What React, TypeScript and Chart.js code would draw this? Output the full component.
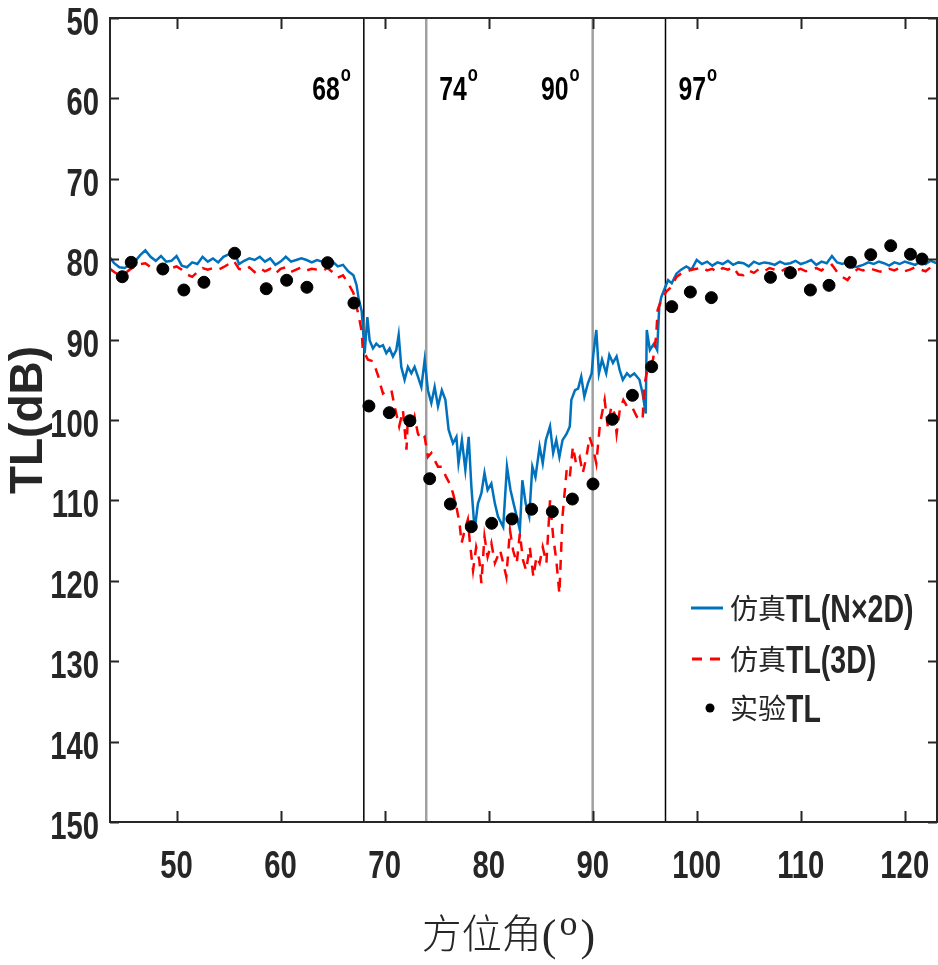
import React, { useEffect, useRef } from "react";
import { Chart, registerables } from "chart.js";
Chart.register(...registerables);

// ---- data ----
const blueX = [43.6,44.0,44.5,45.0,45.5,46.0,46.5,47.0,47.5,48.0,48.5,49.0,49.5,50.0,50.5,51.0,51.5,52.0,52.5,53.0,53.5,54.0,54.5,55.0,55.5,56.0,56.5,57.0,57.5,58.0,58.5,59.0,59.5,60.0,60.5,61.0,61.5,62.0,62.5,63.0,63.5,64.0,64.5,65.0,65.5,66.0,66.5,67.0,67.3,67.5,67.8,68.08,68.34,68.56,68.88,69.2,69.52,69.84,70.16,70.48,70.8,71.12,71.35,71.6,71.92,72.24,72.57,72.88,73.2,73.53,73.85,74.16,74.49,74.81,75.13,75.5,75.84,76.15,76.57,76.9,77.1,77.43,77.76,78.08,78.34,78.65,78.97,79.3,79.6,79.9,80.26,80.6,80.9,81.4,81.76,82.1,82.4,82.7,83.0,83.24,83.56,83.9,84.2,84.5,84.9,85.2,85.5,85.9,86.2,86.5,86.8,87.1,87.5,87.8,87.95,88.3,88.6,88.9,89.2,89.55,89.9,90.05,90.35,90.6,90.9,91.3,91.6,91.95,92.3,92.6,92.9,93.3,93.6,94.0,94.5,94.8,95.1,95.2,95.5,95.9,96.2,96.4,96.6,97.0,97.25,97.6,98.05,98.5,99.0,99.5,100.0,100.5,101.0,101.5,102.0,102.5,103.0,103.5,104.0,104.5,105.0,105.5,106.0,106.5,107.0,107.5,108.0,108.5,109.0,109.5,110.0,110.5,111.0,111.5,112.0,112.5,113.0,113.5,114.0,114.5,115.0,115.5,116.0,116.5,117.0,117.5,118.0,118.5,119.0,119.5,120.0,120.5,121.0,121.5,122.0,122.5,123.1];
const blueY = [79.8,80.5,81.0,81.1,80.7,80.3,79.5,78.9,79.7,80.2,79.6,80.3,80.2,79.6,80.8,81.0,80.4,80.6,79.7,80.3,79.9,80.4,79.7,79.4,78.9,80.6,80.2,79.9,80.1,79.7,80.3,79.9,80.7,80.3,79.7,80.3,80.1,79.9,80.1,80.4,80.1,80.3,80.0,80.3,80.9,80.7,81.5,82.0,83.2,84.9,86.5,91.7,87.2,90.1,91.1,90.5,90.9,90.7,91.7,91.1,92.1,91.3,89.4,93.4,95.0,93.4,94.2,93.4,94.6,95.9,92.5,96.3,97.9,95.9,98.3,96.3,97.5,101.2,102.9,102.1,105.4,102.5,106.2,102.1,108.3,113.7,110.4,109.1,106.6,108.7,107.9,110.4,112.0,113.3,105.8,108.7,110.4,112.0,113.7,107.5,110.4,112.0,105.8,107.1,103.3,105.4,102.5,100.8,104.1,102.5,104.6,102.5,101.7,100.8,97.5,96.3,96.1,94.6,97.1,95.4,94.2,92.0,88.8,94.2,92.5,94.2,91.9,92.9,92.1,93.8,95.0,94.2,94.6,94.2,95.0,96.7,99.2,88.8,91.3,90.5,91.3,85.9,84.7,83.4,82.6,83.0,81.8,81.3,80.9,81.3,80.1,80.6,80.3,80.8,80.4,80.6,80.2,80.7,80.4,80.5,80.9,80.3,80.6,80.4,80.5,80.7,80.3,80.6,80.5,80.2,80.6,80.4,80.1,80.7,80.3,80.5,79.6,80.4,80.6,80.3,81.0,80.9,80.7,80.4,80.6,80.3,80.5,80.8,80.4,80.6,80.3,80.5,80.7,80.3,80.6,80.2,80.5];

const redX = [43.6,44.0,44.5,45.0,45.5,46.0,46.5,47.0,47.5,48.0,48.5,49.0,49.5,50.0,50.5,51.0,51.5,52.0,52.5,53.0,53.5,54.0,54.5,55.0,55.5,56.0,56.5,57.0,57.5,58.0,58.5,59.0,59.5,60.0,60.5,61.0,61.5,62.0,62.5,63.0,63.5,64.0,64.5,65.0,65.5,66.0,66.5,67.0,67.5,67.8,67.9,68.4,68.9,69.4,69.55,69.84,70.3,70.65,70.96,71.4,71.76,72.1,72.24,72.57,72.88,73.2,73.53,73.85,74.16,74.49,74.81,75.13,75.5,75.9,76.25,76.57,76.9,77.2,77.4,77.7,78.0,78.2,78.5,78.8,79.1,79.3,79.6,79.9,80.26,80.6,81.1,81.4,81.7,82.05,82.35,82.7,83.0,83.3,83.6,83.95,84.3,84.6,84.9,85.2,85.55,85.9,86.2,86.5,86.65,86.8,87.1,87.5,87.8,88.1,88.4,88.75,89.05,89.4,89.7,90.0,90.35,90.7,91.15,91.45,91.8,92.1,92.3,92.6,92.95,93.3,93.75,94.25,94.8,94.95,95.3,95.8,96.1,96.25,96.6,97.1,97.6,98.05,98.5,99.0,99.5,100.0,100.5,101.0,101.5,102.0,102.5,103.0,103.5,104.0,104.5,105.0,105.5,106.0,106.5,107.0,107.5,108.0,108.5,109.0,109.5,110.0,110.5,111.0,111.5,112.0,112.5,113.0,113.5,114.0,114.5,115.0,115.5,116.0,116.5,117.0,117.5,118.0,118.5,119.0,119.5,120.0,120.5,121.0,121.5,122.0,122.5,123.1];
const redY = [81.2,81.6,82.0,81.8,81.3,80.9,80.6,80.5,81.0,81.2,81.5,81.0,81.1,80.9,81.3,81.9,82.2,81.6,81.1,81.3,81.1,81.3,81.0,80.6,80.2,81.2,81.4,81.0,81.6,81.1,81.5,81.2,81.8,81.2,81.0,81.6,81.3,81.0,81.4,81.2,81.3,81.5,81.1,81.6,82.3,82.0,83.0,84.2,87.0,89.0,91.3,92.5,92.7,94.6,95.4,96.7,96.3,96.3,98.3,100.8,98.8,103.7,99.6,101.2,99.6,101.7,102.5,102.1,104.6,104.1,105.0,105.8,105.8,107.05,107.9,109.1,110.8,112.85,115.3,113.7,112.4,115.3,118.7,115.8,117.4,120.3,114.5,117.0,115.3,117.8,116.2,117.8,119.5,113.7,116.2,117.8,114.1,117.4,118.7,115.8,119.5,117.0,117.8,115.8,117.8,110.0,114.5,117.4,119.5,121.6,112.0,106.2,107.05,103.3,105.4,104.6,106.6,104.6,102.1,103.3,105.4,100.5,97.5,100.8,98.3,99.2,101.7,98.8,97.5,98.3,98.3,99.6,100.0,95.85,93.4,92.5,89.6,86.3,85.1,84.0,83.4,82.2,81.8,81.55,81.3,81.2,81.0,81.4,81.2,81.6,81.1,81.3,81.0,81.9,82.0,81.4,81.7,81.2,81.5,81.1,81.3,81.6,81.2,81.0,81.4,81.2,81.5,81.3,81.1,81.4,80.9,80.7,81.6,82.2,82.6,81.7,81.2,81.4,81.1,81.3,81.5,81.6,81.2,81.4,81.1,81.5,81.3,81.0,81.3,81.5,81.0,81.2];

const expX = [44.78,45.64,48.68,50.70,52.63,55.58,58.62,60.58,62.53,64.52,67.05,68.49,70.45,72.43,74.33,76.32,78.33,80.29,82.24,84.13,86.12,88.05,90.03,91.89,93.82,95.67,97.6,99.39,101.41,107.09,109.01,110.93,112.72,114.78,116.73,118.65,120.55,121.66];
const expY = [82.18,80.39,81.22,83.83,82.87,79.26,83.67,82.62,83.49,80.43,85.45,98.26,99.09,100.09,107.3,110.45,113.27,112.85,112.31,111.1,111.4,109.83,107.96,99.92,96.93,93.37,85.9,84.08,84.78,82.26,81.68,83.83,83.25,80.39,79.44,78.32,79.39,79.98];

const xTicks = [50, 60, 70, 80, 90, 100, 110, 120];
const yTicks = [50, 60, 70, 80, 90, 100, 110, 120, 130, 140, 150];
const markerAngles = [68, 74, 90, 97];
const markerColors = ["#000000", "#a0a0a0", "#a0a0a0", "#000000"];
const markerSide = [-1, 1, -1, 1];
const legendPrefix = ["仿真", "仿真", "实验"];
const legendSuffix = ["TL(N×2D)", "TL(3D)", "TL"];
const xTitleMain = "方位角";
const xTitleUnit = "o";
const yTitle = "TL(dB)";

const SANS = "'Liberation Sans', Arial, sans-serif";
const CJK = "'Noto Sans CJK SC', sans-serif";
const SERIF = "'Liberation Serif', 'Times New Roman', serif";
const INK = "#262626";
const BLUE = "#0072BD";
const RED = "#FF0000";
const NARROW_SCALE = 0.75;

const pts = (xs: number[], ys: number[]) => xs.map((x, i) => ({ x, y: ys[i] }));

// bold text horizontally condensed (stand-in for Arial Narrow Bold)
function narrowText(ctx: any, text: string, x: number, y: number, size: number, align: string) {
  ctx.save();
  ctx.font = `bold ${size}px ${SANS}`;
  ctx.textAlign = "left";
  ctx.textBaseline = "alphabetic";
  const w = ctx.measureText(text).width * NARROW_SCALE;
  const x0 = align === "right" ? x - w : align === "center" ? x - w / 2 : x;
  ctx.translate(x0, y);
  ctx.scale(NARROW_SCALE, 1);
  ctx.fillText(text, 0, 0);
  ctx.restore();
  return w;
}

const decorPlugin = {
  id: "decor",
  afterDatasetsDraw(chart: any) {
    const { ctx, chartArea: a, scales } = chart;
    const xs = scales.x, ys = scales.y;
    ctx.save();
    // frame
    ctx.strokeStyle = INK;
    ctx.lineWidth = 2;
    ctx.strokeRect(a.left, a.top, a.right - a.left, a.bottom - a.top);
    // inward ticks
    ctx.beginPath();
    xs.ticks.forEach((t: any) => {
      const px = Math.round(xs.getPixelForValue(t.value)) + 0.5;
      ctx.moveTo(px, a.bottom); ctx.lineTo(px, a.bottom - 11);
      ctx.moveTo(px, a.top); ctx.lineTo(px, a.top + 11);
    });
    ys.ticks.forEach((t: any) => {
      const py = Math.round(ys.getPixelForValue(t.value)) + 0.5;
      ctx.moveTo(a.left, py); ctx.lineTo(a.left + 9, py);
      ctx.moveTo(a.right, py); ctx.lineTo(a.right - 9, py);
    });
    ctx.stroke();
    // tick labels
    ctx.fillStyle = INK;
    xs.ticks.forEach((t: any) => {
      narrowText(ctx, String(t.value), xs.getPixelForValue(t.value), a.bottom + 56, 39, "center");
    });
    ys.ticks.forEach((t: any) => {
      narrowText(ctx, String(t.value), a.left - 11, ys.getPixelForValue(t.value) + 17, 39, "right");
    });
    // x axis title: 方位角(°)
    {
      ctx.fillStyle = INK;
      ctx.textBaseline = "alphabetic";
      ctx.textAlign = "left";
      ctx.font = `300 40px ${CJK}`;
      const wMain = ctx.measureText(xTitleMain).width;
      ctx.font = `44px ${SERIF}`;
      const wP = ctx.measureText("(").width;
      const wQ = ctx.measureText(")").width;
      ctx.font = `36px ${SERIF}`;
      const wO = ctx.measureText(xTitleUnit).width;
      const total = wMain + wP + wO + wQ + 6;
      let x = (a.left + a.right) / 2 - 15 - total / 2;
      const base = 950;
      ctx.font = `300 40px ${CJK}`;
      ctx.fillText(xTitleMain, x, base - 2);
      x += wMain;
      ctx.font = `44px ${SERIF}`;
      ctx.fillText("(", x, base);
      x += wP + 3;
      ctx.font = `36px ${SERIF}`;
      ctx.fillText(xTitleUnit, x, base - 15);
      x += wO + 3;
      ctx.font = `44px ${SERIF}`;
      ctx.fillText(")", x, base);
    }
    // marker labels
    ctx.fillStyle = "#000";
    markerAngles.forEach((v, i) => {
      const px = xs.getPixelForValue(v);
      const main = String(v);
      ctx.font = `bold 33px ${SANS}`;
      const w1 = ctx.measureText(main).width * NARROW_SCALE;
      ctx.font = `bold 22px ${SANS}`;
      const w2 = ctx.measureText("o").width * NARROW_SCALE;
      const total = w1 + w2 + 1;
      const x0 = markerSide[i] < 0 ? px - 13 - total : px + 13;
      narrowText(ctx, main, x0, 100, 33, "left");
      narrowText(ctx, "o", x0 + w1 + 1, 81, 22, "left");
    });
    // legend
    const rows = [608, 659, 708];
    rows.forEach((ry, i) => {
      if (i === 0) {
        ctx.strokeStyle = BLUE; ctx.lineWidth = 3; ctx.setLineDash([]);
        ctx.beginPath(); ctx.moveTo(691, ry); ctx.lineTo(723, ry); ctx.stroke();
      } else if (i === 1) {
        ctx.strokeStyle = RED; ctx.lineWidth = 3; ctx.setLineDash([10, 8]);
        ctx.beginPath(); ctx.moveTo(692, ry); ctx.lineTo(720, ry); ctx.stroke();
        ctx.setLineDash([]);
      } else {
        ctx.fillStyle = "#000";
        ctx.beginPath(); ctx.arc(710, ry, 4.5, 0, Math.PI * 2); ctx.fill();
      }
      ctx.fillStyle = INK;
      ctx.font = `28px ${CJK}`;
      ctx.textAlign = "left";
      ctx.textBaseline = "middle";
      ctx.fillText(legendPrefix[i], 730, ry);
      const w = ctx.measureText(legendPrefix[i]).width;
      narrowText(ctx, legendSuffix[i], 730 + w, ry + 14, 38, "left");
    });
    ctx.restore();
  },
};

export default function App() {
  const ref = useRef<HTMLCanvasElement | null>(null);
  useEffect(() => {
    document.body.style.margin = "0";
    const vlines = markerAngles.map((v, i) => ({
      label: "m" + v,
      data: [{ x: v, y: 50 }, { x: v, y: 150 }],
      borderColor: markerColors[i],
      borderWidth: i === 1 || i === 2 ? 2.5 : 1.5,
      pointRadius: 0,
      showLine: true,
      order: 10,
    }));
    const zeroPad = (s: any) => { s.paddingLeft = 0; s.paddingRight = 0; s.paddingTop = 0; s.paddingBottom = 0; };
    const chart = new Chart(ref.current as HTMLCanvasElement, {
      type: "scatter",
      data: {
        datasets: [
          ...vlines,
          { label: "blue", data: pts(blueX, blueY), borderColor: BLUE, borderWidth: 2.5, pointRadius: 0, showLine: true, order: 3 },
          { label: "red", data: pts(redX, redY), borderColor: RED, borderWidth: 2.5, borderDash: [10, 8], pointRadius: 0, showLine: true, order: 2 },
          { label: "exp", data: pts(expX, expY), backgroundColor: "#000", borderColor: "#000", pointRadius: 6, showLine: false, order: 1 },
        ] as any,
      },
      options: {
        animation: false,
        responsive: true,
        maintainAspectRatio: false,
        layout: { autoPadding: false, padding: { top: 18, right: 1, left: 0, bottom: 0 } },
        plugins: { legend: { display: false }, tooltip: { enabled: false } },
        scales: {
          x: {
            type: "linear",
            min: 43.6,
            max: 123.1,
            afterBuildTicks: (s: any) => { s.ticks = xTicks.map((v) => ({ value: v })); },
            afterFit: (s: any) => { s.height = 143; zeroPad(s); },
            grid: { display: false, drawTicks: false },
            border: { display: false },
            ticks: { display: false },
            title: { display: false },
          },
          y: {
            type: "linear",
            reverse: true,
            min: 50,
            max: 150,
            afterBuildTicks: (s: any) => { s.ticks = yTicks.map((v) => ({ value: v })); },
            afterFit: (s: any) => { s.width = 110; zeroPad(s); },
            grid: { display: false, drawTicks: false },
            border: { display: false },
            ticks: { display: false },
            title: {
              display: true,
              text: yTitle,
              font: { family: SANS, size: 46, weight: "bold" },
              color: INK,
              padding: { top: 2, bottom: 0 },
            },
          },
        },
      } as any,
      plugins: [decorPlugin],
    });
    return () => chart.destroy();
  }, []);
  return (
    <div style={{ width: 938, height: 965, position: "relative" }}>
      <canvas ref={ref} />
    </div>
  );
}
